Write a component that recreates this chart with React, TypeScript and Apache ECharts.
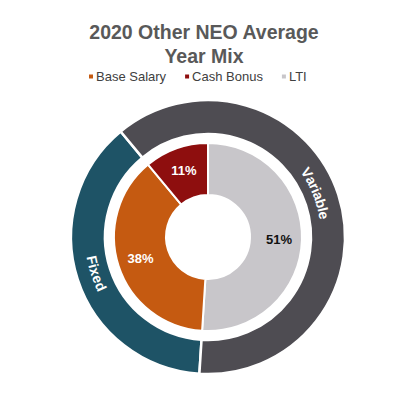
import React, { useEffect, useRef } from "react";
import * as echarts from "echarts";

const categories = ["Base Salary", "Cash Bonus", "LTI"];
const mixValues = [38, 11, 51];
const groupNames = ["Fixed", "Variable"];
const groupValues = [38, 62];
const titleLines = ["2020 Other NEO Average", "Year Mix"];

const catColors: Record<string, string> = {
  "Base Salary": "#C55A11",
  "Cash Bonus": "#8E0E0E",
  LTI: "#C8C6CA",
};
const catLabelColors: Record<string, string> = {
  "Base Salary": "#FFFFFF",
  "Cash Bonus": "#FFFFFF",
  LTI: "#111111",
};
const groupColors: Record<string, string> = {
  Fixed: "#1E5366",
  Variable: "#4E4C52",
};

const CX = 208;
const CY = 237;

function measure(ctx: CanvasRenderingContext2D | null, s: string, font: string) {
  if (!ctx) return s.length * 8;
  ctx.font = font;
  return ctx.measureText(s).width;
}

function arcText(
  word: string,
  thetaCenterDeg: number,
  R: number,
  clockwiseRead: boolean,
  font: string,
  color: string
) {
  const canvas = document.createElement("canvas");
  const ctx = canvas.getContext("2d");
  const widths = word.split("").map((c) => measure(ctx, c, font));
  const W = widths.reduce((a, b) => a + b, 0);
  const tc = (thetaCenterDeg * Math.PI) / 180;
  const els: any[] = [];
  let acc = 0;
  word.split("").forEach((ch, i) => {
    const s = acc + widths[i] / 2;
    acc += widths[i];
    const off = (s - W / 2) / R;
    const th = clockwiseRead ? tc + off : tc - off;
    const x = CX + R * Math.sin(th);
    const y = CY - R * Math.cos(th);
    const rotation = clockwiseRead ? -th : -(th + Math.PI);
    els.push({
      type: "text",
      x,
      y,
      rotation,
      z: 100,
      silent: true,
      style: {
        text: ch,
        font,
        fill: color,
        align: "center",
        verticalAlign: "middle",
        textAlign: "center",
        textVerticalAlign: "middle",
      },
    });
  });
  return els;
}

export default function App() {
  const ref = useRef<HTMLDivElement>(null);
  useEffect(() => {
    if (!ref.current) return;
    const chart = echarts.init(ref.current, undefined, { renderer: "svg" });

    // inner ring order (clockwise from top): LTI, Base Salary, Cash Bonus
    const innerOrder = ["LTI", "Base Salary", "Cash Bonus"];
    const innerData = innerOrder.map((n) => {
      const v = mixValues[categories.indexOf(n)];
      return {
        name: n,
        value: v,
        itemStyle: { color: catColors[n] },
        label: { color: catLabelColors[n] },
      };
    });
    const total = mixValues.reduce((a, b) => a + b, 0);
    const ltiShare = mixValues[categories.indexOf("LTI")] / total;
    const outerStartCw = 360 * ltiShare; // clockwise from top, degrees
    const outerStart = 90 - outerStartCw;

    const gTotal = groupValues.reduce((a, b) => a + b, 0);
    const fixedSpan = (groupValues[0] / gTotal) * 360;
    const varSpan = (groupValues[1] / gTotal) * 360;
    const fixedMid = outerStartCw + fixedSpan / 2;
    const varMid = outerStartCw + fixedSpan + varSpan / 2;

    const labelFont = 'bold 14px "Liberation Sans", Arial, sans-serif';
    const graphics: any[] = [
      ...titleLines.map((t, i) => ({
        type: "text",
        x: 204,
        y: 22 + i * 24,
        z: 100,
        silent: true,
        style: {
          text: t,
          font: 'bold 19.5px "Liberation Sans", Arial, sans-serif',
          fill: "#595959",
          align: "center",
          verticalAlign: "top",
          textAlign: "center",
          textVerticalAlign: "top",
        },
      })),
      ...arcText(groupNames[1], varMid - 4, 118, true, labelFont, "#FFFFFF"),
      ...arcText(groupNames[0], fixedMid, 118, false, labelFont, "#FFFFFF"),
    ];

    chart.setOption({
      animation: false,
      backgroundColor: "#FFFFFF",
      legend: {
        data: categories,
        left: 82,
        top: 65,
        icon: "rect",
        itemWidth: 6,
        itemHeight: 6,
        itemGap: 17,
        selectedMode: false,
        textStyle: {
          fontSize: 13,
          color: "#404040",
          fontFamily: '"Liberation Sans", Arial, sans-serif',
          padding: [0, 0, 0, -3],
        },
      },
      series: [
        {
          type: "pie",
          name: "mix",
          center: [CX, CY],
          radius: [42, 94],
          startAngle: 90,
          clockwise: true,
          avoidLabelOverlap: false,
          itemStyle: { borderColor: "#FFFFFF", borderWidth: 2 },
          label: {
            show: true,
            position: "inside",
            formatter: "{c}%",
            fontWeight: "bold",
            fontSize: 13,
            fontFamily: '"Liberation Sans", Arial, sans-serif',
          },
          labelLine: { show: false },
          emphasis: { disabled: true },
          data: innerData,
        },
        {
          type: "pie",
          name: "group",
          center: [CX, CY],
          radius: [103, 137],
          startAngle: outerStart,
          clockwise: true,
          avoidLabelOverlap: false,
          itemStyle: { borderColor: "#FFFFFF", borderWidth: 2.5 },
          label: { show: false },
          labelLine: { show: false },
          emphasis: { disabled: true },
          data: groupNames.map((n, i) => ({
            name: n,
            value: groupValues[i],
            itemStyle: { color: groupColors[n] },
          })),
        },
      ],
      graphic: graphics,
    });
    return () => chart.dispose();
  }, []);
  return (
    <div
      ref={ref}
      style={{ position: "absolute", left: 0, top: 0, width: 396, height: 408 }}
    />
  );
}
